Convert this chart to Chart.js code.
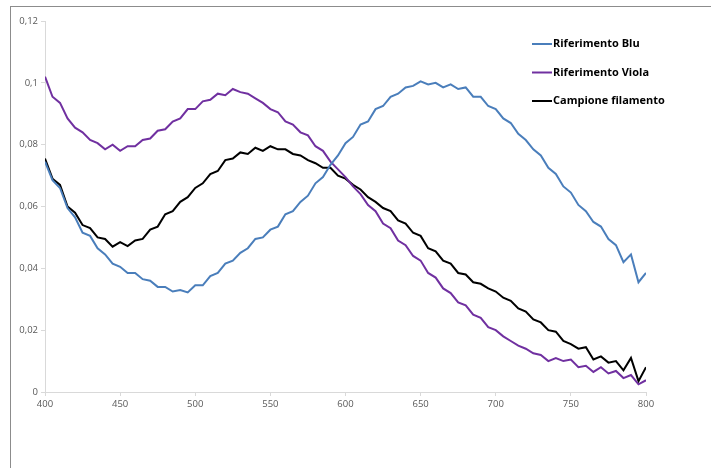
<!DOCTYPE html>
<html>
<head>
<meta charset="utf-8">
<script src="https://cdn.jsdelivr.net/npm/chart.js@4"></script>
<style>
  html, body { margin: 0; padding: 0; background: #fff; overflow: hidden; }
  #wrap { position: relative; width: 711px; height: 468px; }
  #frame { position: absolute; left: 10px; top: 6px; width: 800px; height: 600px;
           border: 1px solid #8c8c8c; pointer-events: none; }
  canvas { position: absolute; left: 0; top: 0; }
</style>
</head>
<body>
<div id="wrap">
  <canvas id="chart" width="711" height="468"></canvas>
  <div id="frame"></div>
</div>
<script>
// wavelengths (nm)
const wavelengths = [400,405,410,415,420,425,430,435,440,445,450,455,460,465,470,475,480,485,490,495,
  500,505,510,515,520,525,530,535,540,545,550,555,560,565,570,575,580,585,590,595,
  600,605,610,615,620,625,630,635,640,645,650,655,660,665,670,675,680,685,690,695,
  700,705,710,715,720,725,730,735,740,745,750,755,760,765,770,775,780,785,790,795,800];

const seriesNames = ["Riferimento Blu", "Riferimento Viola", "Campione filamento"];

const rifBlu = [.0745,.0685,.0660,.0595,.0565,.0515,.0505,.0465,.0445,.0415,.0405,.0385,.0385,.0365,.0360,.0340,.0340,.0325,.0330,.0322,
  .0345,.0345,.0375,.0385,.0415,.0425,.0450,.0465,.0495,.0500,.0525,.0535,.0575,.0585,.0615,.0635,.0675,.0695,.0735,.0765,
  .0805,.0825,.0865,.0875,.0915,.0925,.0955,.0965,.0985,.0990,.1005,.0995,.1000,.0985,.0995,.0980,.0985,.0955,.0955,.0925,
  .0915,.0885,.0870,.0835,.0815,.0785,.0765,.0725,.0705,.0665,.0645,.0605,.0585,.0550,.0535,.0495,.0475,.0420,.0445,.0355,.0385];

const rifViola = [.1020,.0955,.0935,.0885,.0855,.0840,.0815,.0805,.0785,.0800,.0780,.0795,.0795,.0815,.0820,.0845,.0850,.0875,.0885,.0915,
  .0915,.0940,.0945,.0965,.0960,.0980,.0970,.0965,.0950,.0935,.0915,.0905,.0875,.0865,.0840,.0830,.0795,.0780,.0745,.0720,
  .0695,.0665,.0640,.0605,.0585,.0545,.0530,.0490,.0475,.0440,.0425,.0385,.0370,.0335,.0320,.0290,.0280,.0250,.0240,.0210,
  .0200,.0180,.0165,.0150,.0140,.0125,.0120,.0100,.0110,.0100,.0105,.0080,.0085,.0065,.0080,.0060,.0068,.0045,.0055,.0025,.0038];

const campione = [.0755,.0690,.0670,.0600,.0580,.0540,.0530,.0500,.0495,.0470,.0485,.0472,.0490,.0495,.0525,.0535,.0575,.0585,.0615,.0630,
  .0660,.0675,.0705,.0715,.0750,.0755,.0775,.0770,.0790,.0780,.0795,.0785,.0785,.0770,.0765,.0750,.0740,.0725,.0725,.0700,
  .0690,.0670,.0655,.0630,.0615,.0595,.0585,.0555,.0545,.0515,.0505,.0465,.0455,.0425,.0415,.0385,.0380,.0355,.0350,.0335,
  .0325,.0305,.0295,.0270,.0260,.0235,.0225,.0200,.0195,.0165,.0155,.0140,.0145,.0105,.0115,.0095,.0100,.0070,.0110,.0035,.0080];

const yTickLabels = ["0", "0,02", "0,04", "0,06", "0,08", "0,1", "0,12"];

const colors = ["#4a7ebb", "#7030a0", "#000000"];

function toPoints(vals) {
  return wavelengths.map((w, i) => ({ x: w, y: vals[i] }));
}

// legend drawn inside the plot, Excel style
const insideLegend = {
  id: "insideLegend",
  afterDraw(chart) {
    const ctx = chart.ctx;
    ctx.save();
    ctx.font = "bold 11px 'Open Sans'";
    ctx.textBaseline = "middle";
    chart.data.datasets.forEach((ds, i) => {
      const y = 44 + i * 28.5;
      ctx.strokeStyle = ds.borderColor;
      ctx.lineWidth = 2;
      ctx.beginPath();
      ctx.moveTo(532, y);
      ctx.lineTo(552, y);
      ctx.stroke();
      ctx.fillStyle = "#000";
      ctx.fillText(ds.label, 553, y);
    });
    ctx.restore();
  }
};

const tickFont = { family: "'Open Sans'", size: 9.5 };

new Chart(document.getElementById("chart").getContext("2d"), {
  type: "line",
  data: {
    datasets: [rifBlu, rifViola, campione].map((vals, i) => ({
      label: seriesNames[i],
      data: toPoints(vals),
      borderColor: colors[i],
      borderWidth: 2,
      pointRadius: 0,
      tension: 0,
      fill: false
    }))
  },
  options: {
    responsive: false,
    animation: false,
    layout: { padding: { top: 21, right: 65, left: 0, bottom: 0 } },
    plugins: { legend: { display: false }, tooltip: { enabled: false } },
    scales: {
      x: {
        type: "linear",
        min: 400,
        max: 800,
        ticks: { stepSize: 50, color: "#595959", font: tickFont, padding: 3 },
        grid: { drawOnChartArea: false, tickLength: 4, color: "#d9d9d9" },
        border: { color: "#d9d9d9" },
        afterFit(scale) { scale.height = 76; }
      },
      y: {
        min: 0,
        max: 0.12,
        ticks: {
          stepSize: 0.02,
          color: "#595959",
          font: tickFont,
          padding: 3,
          callback: (v, i) => yTickLabels[i]
        },
        grid: { drawOnChartArea: false, tickLength: 4, color: "#d9d9d9" },
        border: { color: "#d9d9d9" },
        afterFit(scale) { scale.width = 45; }
      }
    }
  },
  plugins: [insideLegend]
});
</script>
</body>
</html>
